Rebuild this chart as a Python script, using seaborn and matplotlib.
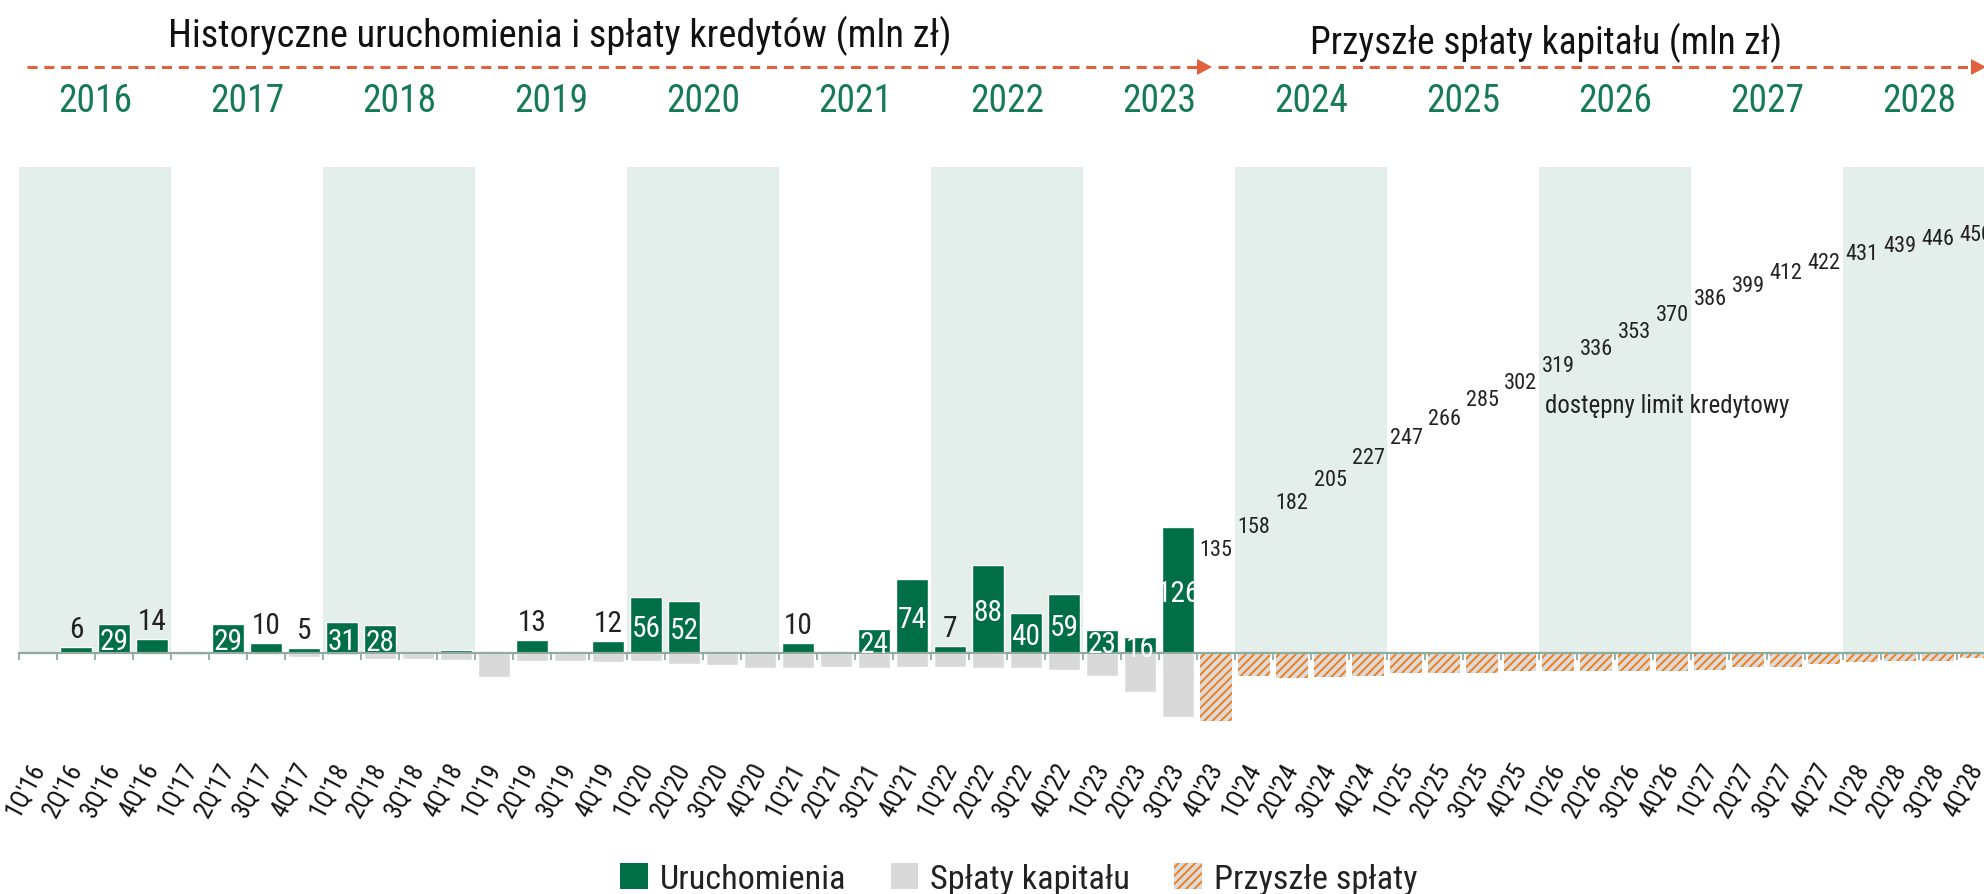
import numpy as np
import pandas as pd
import matplotlib
matplotlib.use("Agg")
import matplotlib.pyplot as plt
import matplotlib.font_manager as fm
import seaborn as sns
from matplotlib.patches import Patch, Polygon
from matplotlib.lines import Line2D
from matplotlib import transforms
from matplotlib.ticker import FixedLocator

# ---------------- data ----------------
years = ["2016", "2017", "2018", "2019", "2020", "2021", "2022",
         "2023", "2024", "2025", "2026", "2027", "2028"]
quarters = [f"{q}Q'{y[2:]}" for y in years for q in (1, 2, 3, 4)]

# Uruchomienia (mln zł), 1Q'16 .. 3Q'23 ; None = brak
uruchomienia = [None, 6, 29, 14,
                None, 29, 10, 5,
                31, 28, None, 3,
                None, 13, None, 12,
                56, 52, None, None,
                10, None, 24, 74,
                7, 88, 40, 59,
                23, 16, 126]

# Spłaty kapitału (mln zł), 1Q'16 .. 3Q'23
splaty = [0, 0, 0, 0,
          -2, 0, 0, -4,
          -2, -6, -6, -7,
          -24, -8, -8, -9,
          -8, -11, -12, -15,
          -15, -14, -15, -14,
          -14, -15, -15, -17,
          -23, -39, -64]

# Przyszłe spłaty (mln zł), 4Q'23 .. 4Q'28
przyszle = [-68,
            -23, -25, -24, -23,
            -20, -20, -20, -18,
            -18, -18, -18, -18,
            -17, -14, -14, -11,
            -9, -8, -8, -5]

# Dostępny limit kredytowy (mln zł), 4Q'23 .. 4Q'28
limit = [135,
         158, 182, 205, 227,
         247, 266, 285, 302,
         319, 336, 353, 370,
         386, 399, 412, 422,
         431, 439, 446, 450]

band_years = ["2016", "2018", "2020", "2022", "2024", "2026", "2028"]
band_height = 486

title_hist = "Historyczne uruchomienia i spłaty kredytów (mln zł)"
title_future = "Przyszłe spłaty kapitału (mln zł)"
limit_text = "dostępny limit kredytowy"
legend_labels = ["Uruchomienia", "Spłaty kapitału", "Przyszłe spłaty"]

# ---------------- style ----------------
GREEN = "#006e46"
YEAR_GREEN = "#157a55"
GRAY = "#d9d9d9"
HATCH_FACE = "#dcdcdc"
ORANGE = "#f07e1c"
BAND = "#e4eeea"
AXIS = "#8fab9e"
DARK = "#222222"
ARROW = "#e2603c"

sns.set_style("white")

# pick a condensed face if one is installed
entries = fm.fontManager.ttflist
names = {f.name for f in entries}
family, stretch = None, "normal"
for nm in ["Liberation Sans Narrow", "Roboto Condensed", "Arial Narrow",
           "Open Sans Condensed"]:
    if nm in names:
        family = nm
        break
if family is None:
    for nm in ["Noto Sans", "Roboto", "Open Sans"]:
        if any(f.name == nm and str(f.stretch) in ("condensed", "semi-condensed",
                                                   "extra-condensed")
               for f in entries):
            family, stretch = nm, "condensed"
            break
if family is None:
    family = "Roboto" if "Roboto" in names else "Liberation Sans"
plt.rcParams["font.family"] = [family, "DejaVu Sans"]
plt.rcParams["font.stretch"] = stretch
plt.rcParams["hatch.linewidth"] = 1.4

W, H = 1984, 895
fig = plt.figure(figsize=(W / 100, H / 100), dpi=100)
renderer = fig.canvas.get_renderer()


def fit(s, target_px, size0=20.0):
    t = fig.text(0, 0, s, fontsize=size0)
    w = t.get_window_extent(renderer).width
    t.remove()
    return size0 * target_px / w


FS_TITLE = fit(title_hist, 783)
FS_TITLE2 = fit(title_future, 472)
FS_YEAR = fit("2016", 74)
FS_BAR = fit("10", 29)
FS_LIM = fit("336", 33)
FS_LIMTXT = fit(limit_text, 243)
FS_LEG = fit("Uruchomienia", 186)
FS_TICK = fit("1Q'16", 57)

ax_left = 19 / W
ax_bottom = (H - 740) / H
ax = fig.add_axes([ax_left, ax_bottom, 1 - ax_left, 580 / H])
YLIM = (-86, 494)

hist_q = quarters[:len(splaty)]
fut_q = quarters[len(splaty):]

# background bands for alternating years
band_centers = [years.index(y) * 4 + 1.5 for y in band_years]
ax.bar(band_centers, [band_height] * len(band_centers), width=4,
       color=BAND, linewidth=0, zorder=0)

# bars
ur_q = [q for q, v in zip(hist_q, uruchomienia) if v is not None]
ur_v = [v for v in uruchomienia if v is not None]
df_ur = pd.DataFrame({"kw": ur_q, "val": ur_v})
df_sp = pd.DataFrame({"kw": hist_q, "val": splaty})
df_fu = pd.DataFrame({"kw": fut_q, "val": przyszle})

sns.barplot(data=df_sp, x="kw", y="val", order=quarters, color=GRAY,
            saturation=1, width=0.83, ax=ax, zorder=2, errorbar=None)
n_before = len(ax.patches)
sns.barplot(data=df_fu, x="kw", y="val", order=quarters, color=HATCH_FACE,
            saturation=1, width=0.83, ax=ax, zorder=2, errorbar=None)
for p in ax.patches[n_before:]:
    p.set_hatch("////")
    p.set_edgecolor(ORANGE)
    p.set_linewidth(0)
sns.barplot(data=df_ur, x="kw", y="val", order=quarters, color=GREEN,
            saturation=1, width=0.83, ax=ax, zorder=3, errorbar=None)

# bar labels
for q, v in zip(ur_q, ur_v):
    i = quarters.index(q)
    if v >= 15:
        ax.text(i, v / 2, str(v), ha="center", va="center_baseline",
                color="white", fontsize=FS_BAR, zorder=5)
    elif v >= 5:
        ax.annotate(str(v), (i, v), xytext=(0, 7), textcoords="offset points",
                    ha="center", va="baseline", color=DARK, fontsize=FS_BAR,
                    zorder=5)

ax.set_ylim(*YLIM)
ax.set_xlim(-0.5, 51.21)

# limit labels on a secondary scale
ax2 = ax.twinx()
ax2.set_ylim(YLIM[0] + 29, YLIM[1] + 29)
ax2.axis("off")
for q, v in zip(fut_q, limit):
    ax2.text(quarters.index(q), v, str(v), ha="center", va="center_baseline",
             color=DARK, fontsize=FS_LIM)
ax.text(quarters.index("1Q'26") - 0.34, 248, limit_text, ha="left",
        va="center", color=DARK, fontsize=FS_LIMTXT)

# axes styling
for s in ("top", "left", "right"):
    ax.spines[s].set_visible(False)
ax.spines["bottom"].set_position(("data", 0))
ax.spines["bottom"].set_color(AXIS)
ax.spines["bottom"].set_linewidth(1.6)
ax.spines["bottom"].set_zorder(4)
ax.set_yticks([])
ax.set_xlabel("")
ax.set_ylabel("")
ax.set_xticks(range(len(quarters)))
ax.set_xticklabels(quarters, rotation=62, ha="right", va="center",
                   rotation_mode="anchor", fontsize=FS_TICK, color="#111111")
shift = transforms.ScaledTranslation(5 / 100, 0, fig.dpi_scale_trans)
for lab in ax.get_xticklabels():
    lab.set_transform(lab.get_transform() + shift)
ax.xaxis.set_minor_locator(FixedLocator(np.arange(len(quarters) + 1) - 0.5))
ax.tick_params(axis="x", which="major", length=0, pad=80)
ax.tick_params(axis="x", which="minor", length=5, width=1.3, color=AXIS,
               direction="out", bottom=True)
ax.grid(False)

# year labels
blend = transforms.blended_transform_factory(ax.transData, fig.transFigure)
for k, y in enumerate(years):
    ax.text(k * 4 + 1.5, 1 - 101 / H, y, transform=blend, ha="center",
            va="center", fontsize=FS_YEAR, color=YEAR_GREEN)

# titles
fig.text(560 / W, 1 - 36 / H, title_hist, ha="center", va="center",
         fontsize=FS_TITLE, color="#111111")
fig.text(1546 / W, 1 - 43 / H, title_future, ha="center", va="center",
         fontsize=FS_TITLE2, color="#111111")

# dashed arrows
ya = 1 - 68 / H


def arrow(x0, tip):
    hl, hh = 15, 8
    fig.add_artist(Line2D([x0 / W, (tip - hl) / W], [ya, ya],
                          transform=fig.transFigure, color=ARROW, lw=2.2,
                          linestyle=(0, (3.3, 2.2))))
    fig.add_artist(Polygon([[tip / W, ya], [(tip - hl) / W, ya + hh / H],
                            [(tip - hl) / W, ya - hh / H]], closed=True,
                           transform=fig.transFigure, color=ARROW, lw=0))


arrow(27, 1212)
arrow(1218, 1986)

# legend
handles = [Patch(facecolor=GREEN, edgecolor=GREEN, lw=0),
           Patch(facecolor=GRAY, edgecolor=GRAY, lw=0),
           Patch(facecolor=HATCH_FACE, edgecolor=ORANGE, hatch="////", lw=0)]
fig.legend(handles, legend_labels, loc="center",
           bbox_to_anchor=(0.5135, 15 / H),
           ncol=3, frameon=False, fontsize=FS_LEG, handlelength=0.8,
           handleheight=0.8, handletextpad=0.35, columnspacing=1.3,
           labelcolor=DARK)

fig.savefig("out.png", dpi=100)
